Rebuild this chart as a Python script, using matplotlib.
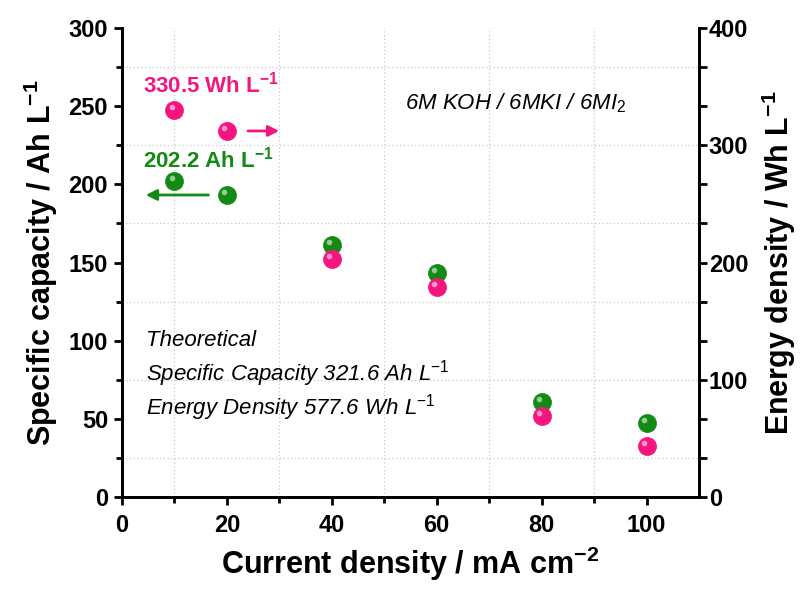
import numpy as np
import matplotlib
matplotlib.use("Agg")
import matplotlib.pyplot as plt
import matplotlib.transforms as mtransforms

plt.rcParams['font.family'] = ['Liberation Sans', 'DejaVu Sans']
plt.rcParams['mathtext.fontset'] = 'custom'
plt.rcParams['mathtext.rm'] = 'Liberation Sans'
plt.rcParams['mathtext.bf'] = 'Liberation Sans:bold'
plt.rcParams['mathtext.it'] = 'Liberation Sans:italic'

# data
current = [10, 20, 40, 60, 80, 100]                    # mA cm-2
capacity = [202.2, 193.2, 161.2, 143.3, 60.8, 47.3]    # Ah L-1 (left axis)
energy = [330.5, 312.2, 203.0, 179.0, 69.0, 43.5]      # Wh L-1 (right axis)

x_ticks = [0, 20, 40, 60, 80, 100]
left_ticks = [0, 50, 100, 150, 200, 250, 300]
right_ticks = [0, 100, 200, 300, 400]

GREEN = '#138a13'
PINK = '#f5157f'

fig = plt.figure(figsize=(8.09, 5.90), dpi=100)
ax = fig.add_axes([0.1508, 0.1576, 0.7132, 0.7949])
ax2 = ax.twinx()

# dotted grid at minor positions
for gx in np.arange(10, 110, 20):
    ax.axvline(gx, color='#c8c8c8', lw=0.9, ls=(0, (1, 2)), zorder=0)
for gy in np.arange(25, 300, 50):
    ax.axhline(gy, color='#c8c8c8', lw=0.9, ls=(0, (1, 2)), zorder=0)


def spheres(axis, xs, ys, color):
    axis.plot(xs, ys, 'o', ms=13, color=color, mec=color, mew=0.5, zorder=5, clip_on=False)
    hl = mtransforms.offset_copy(axis.transData, fig=fig, x=-2.0, y=2.0, units='points')
    axis.plot(xs, ys, 'o', ms=4, color='white', alpha=0.55, mew=0, transform=hl, zorder=6)


spheres(ax, current, capacity, GREEN)
spheres(ax2, current, energy, PINK)

ax.set_xlim(0, 110)
ax.set_ylim(0, 300)
ax2.set_ylim(0, 400)

ax.set_xticks(x_ticks)
ax.set_xticks(np.arange(10, 110, 20), minor=True)
ax.set_yticks(left_ticks)
ax.set_yticks(np.arange(25, 300, 50), minor=True)
ax2.set_yticks(np.linspace(0, 400, 13))
ax2.set_yticklabels([str(int(round(v))) if round(v) in right_ticks else '' for v in np.linspace(0, 400, 13)])

for a in (ax, ax2):
    a.spines['top'].set_visible(False)
    for s in ('left', 'right', 'bottom'):
        a.spines[s].set_linewidth(2.0)
    a.tick_params(which='major', length=6, width=2.0, labelsize=17, direction='out')
    a.tick_params(which='minor', length=4, width=2.0, direction='out')
    for lab in a.get_xticklabels() + a.get_yticklabels():
        lab.set_fontweight('bold')

ax2.tick_params(axis='y', pad=1)
ax.tick_params(axis='y', pad=4)
ax.tick_params(axis='x', pad=6)

ax.set_xlabel('Current density / mA cm$^{\\mathbf{-2}}$', fontsize=22, fontweight='bold', labelpad=6)
ax.set_ylabel('Specific capacity / Ah L$^{\\mathbf{-1}}$', fontsize=22, fontweight='bold', labelpad=6)
ax2.set_ylabel('Energy density / Wh L$^{\\mathbf{-1}}$', fontsize=22, fontweight='bold', labelpad=8)

# annotations
ax2.text(4, 352, '330.5 Wh L$^{\\mathbf{-1}}$', color=PINK, fontsize=16, fontweight='bold', va='center')
ax.text(4, 216, '202.2 Ah L$^{\\mathbf{-1}}$', color=GREEN, fontsize=16, fontweight='bold', va='center')
ax2.annotate('', xy=(30.5, energy[1]), xytext=(23.5, energy[1]),
             arrowprops=dict(arrowstyle='-|>', color=PINK, lw=2.0, mutation_scale=16))
ax.annotate('', xy=(4, capacity[1]), xytext=(17, capacity[1]),
            arrowprops=dict(arrowstyle='-|>', color=GREEN, lw=2.0, mutation_scale=16))

ax.text(54, 252, '6M KOH / 6MKI / 6MI$_{\\mathit{2}}$', fontsize=16, fontstyle='italic', va='center')

ax.text(4.5, 100, 'Theoretical', fontsize=16, fontstyle='italic', va='center')
ax.text(4.5, 79, 'Specific Capacity 321.6 Ah L$^{-1}$', fontsize=16, fontstyle='italic', va='center')
ax.text(4.5, 57, 'Energy Density 577.6 Wh L$^{-1}$', fontsize=16, fontstyle='italic', va='center')

fig.savefig('out.png', dpi=100)
